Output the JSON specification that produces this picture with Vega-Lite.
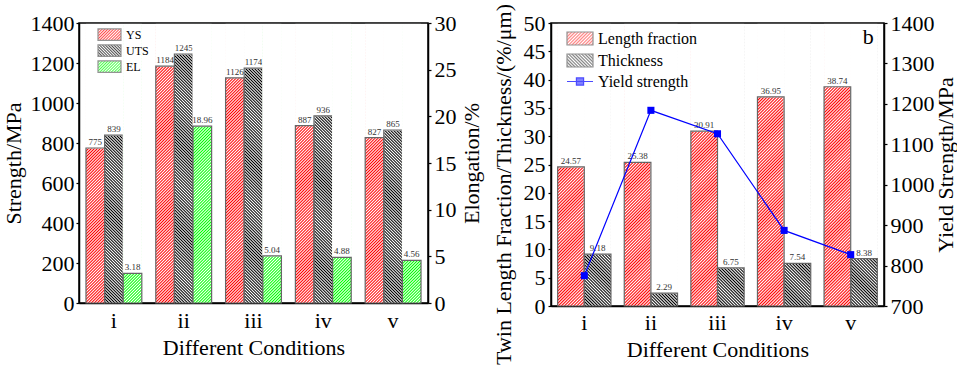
{
"$schema":"https://vega.github.io/schema/vega-lite/v6.json",
"autosize":{"type":"pad"},
"padding":{"left":1,"top":2,"right":0,"bottom":0},
"background":"white",
"params":[
{"name":"sR","value":[{"offset":0,"color":"#fff"},{"offset":0.005,"color":"#f00"},{"offset":0.01,"color":"#fff"},{"offset":0.015,"color":"#f00"},{"offset":0.02,"color":"#fff"},{"offset":0.025,"color":"#f00"},{"offset":0.03,"color":"#fff"},{"offset":0.035,"color":"#f00"},{"offset":0.04,"color":"#fff"},{"offset":0.045,"color":"#f00"},{"offset":0.05,"color":"#fff"},{"offset":0.055,"color":"#f00"},{"offset":0.06,"color":"#fff"},{"offset":0.065,"color":"#f00"},{"offset":0.07,"color":"#fff"},{"offset":0.075,"color":"#f00"},{"offset":0.08,"color":"#fff"},{"offset":0.085,"color":"#f00"},{"offset":0.09,"color":"#fff"},{"offset":0.095,"color":"#f00"},{"offset":0.1,"color":"#fff"},{"offset":0.105,"color":"#f00"},{"offset":0.11,"color":"#fff"},{"offset":0.115,"color":"#f00"},{"offset":0.12,"color":"#fff"},{"offset":0.125,"color":"#f00"},{"offset":0.13,"color":"#fff"},{"offset":0.135,"color":"#f00"},{"offset":0.14,"color":"#fff"},{"offset":0.145,"color":"#f00"},{"offset":0.15,"color":"#fff"},{"offset":0.155,"color":"#f00"},{"offset":0.16,"color":"#fff"},{"offset":0.165,"color":"#f00"},{"offset":0.17,"color":"#fff"},{"offset":0.175,"color":"#f00"},{"offset":0.18,"color":"#fff"},{"offset":0.185,"color":"#f00"},{"offset":0.19,"color":"#fff"},{"offset":0.195,"color":"#f00"},{"offset":0.2,"color":"#fff"},{"offset":0.205,"color":"#f00"},{"offset":0.21,"color":"#fff"},{"offset":0.215,"color":"#f00"},{"offset":0.22,"color":"#fff"},{"offset":0.225,"color":"#f00"},{"offset":0.23,"color":"#fff"},{"offset":0.235,"color":"#f00"},{"offset":0.24,"color":"#fff"},{"offset":0.245,"color":"#f00"},{"offset":0.25,"color":"#fff"},{"offset":0.255,"color":"#f00"},{"offset":0.26,"color":"#fff"},{"offset":0.265,"color":"#f00"},{"offset":0.27,"color":"#fff"},{"offset":0.275,"color":"#f00"},{"offset":0.28,"color":"#fff"},{"offset":0.285,"color":"#f00"},{"offset":0.29,"color":"#fff"},{"offset":0.295,"color":"#f00"},{"offset":0.3,"color":"#fff"},{"offset":0.305,"color":"#f00"},{"offset":0.31,"color":"#fff"},{"offset":0.315,"color":"#f00"},{"offset":0.32,"color":"#fff"},{"offset":0.325,"color":"#f00"},{"offset":0.33,"color":"#fff"},{"offset":0.335,"color":"#f00"},{"offset":0.34,"color":"#fff"},{"offset":0.345,"color":"#f00"},{"offset":0.35,"color":"#fff"},{"offset":0.355,"color":"#f00"},{"offset":0.36,"color":"#fff"},{"offset":0.365,"color":"#f00"},{"offset":0.37,"color":"#fff"},{"offset":0.375,"color":"#f00"},{"offset":0.38,"color":"#fff"},{"offset":0.385,"color":"#f00"},{"offset":0.39,"color":"#fff"},{"offset":0.395,"color":"#f00"},{"offset":0.4,"color":"#fff"},{"offset":0.405,"color":"#f00"},{"offset":0.41,"color":"#fff"},{"offset":0.415,"color":"#f00"},{"offset":0.42,"color":"#fff"},{"offset":0.425,"color":"#f00"},{"offset":0.43,"color":"#fff"},{"offset":0.435,"color":"#f00"},{"offset":0.44,"color":"#fff"},{"offset":0.445,"color":"#f00"},{"offset":0.45,"color":"#fff"},{"offset":0.455,"color":"#f00"},{"offset":0.46,"color":"#fff"},{"offset":0.465,"color":"#f00"},{"offset":0.47,"color":"#fff"},{"offset":0.475,"color":"#f00"},{"offset":0.48,"color":"#fff"},{"offset":0.485,"color":"#f00"},{"offset":0.49,"color":"#fff"},{"offset":0.495,"color":"#f00"},{"offset":0.5,"color":"#fff"},{"offset":0.505,"color":"#f00"},{"offset":0.51,"color":"#fff"},{"offset":0.515,"color":"#f00"},{"offset":0.52,"color":"#fff"},{"offset":0.525,"color":"#f00"},{"offset":0.53,"color":"#fff"},{"offset":0.535,"color":"#f00"},{"offset":0.54,"color":"#fff"},{"offset":0.545,"color":"#f00"},{"offset":0.55,"color":"#fff"},{"offset":0.555,"color":"#f00"},{"offset":0.56,"color":"#fff"},{"offset":0.565,"color":"#f00"},{"offset":0.57,"color":"#fff"},{"offset":0.575,"color":"#f00"},{"offset":0.58,"color":"#fff"},{"offset":0.585,"color":"#f00"},{"offset":0.59,"color":"#fff"},{"offset":0.595,"color":"#f00"},{"offset":0.6,"color":"#fff"},{"offset":0.605,"color":"#f00"},{"offset":0.61,"color":"#fff"},{"offset":0.615,"color":"#f00"},{"offset":0.62,"color":"#fff"},{"offset":0.625,"color":"#f00"},{"offset":0.63,"color":"#fff"},{"offset":0.635,"color":"#f00"},{"offset":0.64,"color":"#fff"},{"offset":0.645,"color":"#f00"},{"offset":0.65,"color":"#fff"},{"offset":0.655,"color":"#f00"},{"offset":0.66,"color":"#fff"},{"offset":0.665,"color":"#f00"},{"offset":0.67,"color":"#fff"},{"offset":0.675,"color":"#f00"},{"offset":0.68,"color":"#fff"},{"offset":0.685,"color":"#f00"},{"offset":0.69,"color":"#fff"},{"offset":0.695,"color":"#f00"},{"offset":0.7,"color":"#fff"},{"offset":0.705,"color":"#f00"},{"offset":0.71,"color":"#fff"},{"offset":0.715,"color":"#f00"},{"offset":0.72,"color":"#fff"},{"offset":0.725,"color":"#f00"},{"offset":0.73,"color":"#fff"},{"offset":0.735,"color":"#f00"},{"offset":0.74,"color":"#fff"},{"offset":0.745,"color":"#f00"},{"offset":0.75,"color":"#fff"},{"offset":0.755,"color":"#f00"},{"offset":0.76,"color":"#fff"},{"offset":0.765,"color":"#f00"},{"offset":0.77,"color":"#fff"},{"offset":0.775,"color":"#f00"},{"offset":0.78,"color":"#fff"},{"offset":0.785,"color":"#f00"},{"offset":0.79,"color":"#fff"},{"offset":0.795,"color":"#f00"},{"offset":0.8,"color":"#fff"},{"offset":0.805,"color":"#f00"},{"offset":0.81,"color":"#fff"},{"offset":0.815,"color":"#f00"},{"offset":0.82,"color":"#fff"},{"offset":0.825,"color":"#f00"},{"offset":0.83,"color":"#fff"},{"offset":0.835,"color":"#f00"},{"offset":0.84,"color":"#fff"},{"offset":0.845,"color":"#f00"},{"offset":0.85,"color":"#fff"},{"offset":0.855,"color":"#f00"},{"offset":0.86,"color":"#fff"},{"offset":0.865,"color":"#f00"},{"offset":0.87,"color":"#fff"},{"offset":0.875,"color":"#f00"},{"offset":0.88,"color":"#fff"},{"offset":0.885,"color":"#f00"},{"offset":0.89,"color":"#fff"},{"offset":0.895,"color":"#f00"},{"offset":0.9,"color":"#fff"},{"offset":0.905,"color":"#f00"},{"offset":0.91,"color":"#fff"},{"offset":0.915,"color":"#f00"},{"offset":0.92,"color":"#fff"},{"offset":0.925,"color":"#f00"},{"offset":0.93,"color":"#fff"},{"offset":0.935,"color":"#f00"},{"offset":0.94,"color":"#fff"},{"offset":0.945,"color":"#f00"},{"offset":0.95,"color":"#fff"},{"offset":0.955,"color":"#f00"},{"offset":0.96,"color":"#fff"},{"offset":0.965,"color":"#f00"},{"offset":0.97,"color":"#fff"},{"offset":0.975,"color":"#f00"},{"offset":0.98,"color":"#fff"},{"offset":0.985,"color":"#f00"},{"offset":0.99,"color":"#fff"},{"offset":0.995,"color":"#f00"},{"offset":1,"color":"#fff"}]},
{"name":"sK","value":[{"offset":0,"color":"#fff"},{"offset":0.005,"color":"#000"},{"offset":0.01,"color":"#fff"},{"offset":0.015,"color":"#000"},{"offset":0.02,"color":"#fff"},{"offset":0.025,"color":"#000"},{"offset":0.03,"color":"#fff"},{"offset":0.035,"color":"#000"},{"offset":0.04,"color":"#fff"},{"offset":0.045,"color":"#000"},{"offset":0.05,"color":"#fff"},{"offset":0.055,"color":"#000"},{"offset":0.06,"color":"#fff"},{"offset":0.065,"color":"#000"},{"offset":0.07,"color":"#fff"},{"offset":0.075,"color":"#000"},{"offset":0.08,"color":"#fff"},{"offset":0.085,"color":"#000"},{"offset":0.09,"color":"#fff"},{"offset":0.095,"color":"#000"},{"offset":0.1,"color":"#fff"},{"offset":0.105,"color":"#000"},{"offset":0.11,"color":"#fff"},{"offset":0.115,"color":"#000"},{"offset":0.12,"color":"#fff"},{"offset":0.125,"color":"#000"},{"offset":0.13,"color":"#fff"},{"offset":0.135,"color":"#000"},{"offset":0.14,"color":"#fff"},{"offset":0.145,"color":"#000"},{"offset":0.15,"color":"#fff"},{"offset":0.155,"color":"#000"},{"offset":0.16,"color":"#fff"},{"offset":0.165,"color":"#000"},{"offset":0.17,"color":"#fff"},{"offset":0.175,"color":"#000"},{"offset":0.18,"color":"#fff"},{"offset":0.185,"color":"#000"},{"offset":0.19,"color":"#fff"},{"offset":0.195,"color":"#000"},{"offset":0.2,"color":"#fff"},{"offset":0.205,"color":"#000"},{"offset":0.21,"color":"#fff"},{"offset":0.215,"color":"#000"},{"offset":0.22,"color":"#fff"},{"offset":0.225,"color":"#000"},{"offset":0.23,"color":"#fff"},{"offset":0.235,"color":"#000"},{"offset":0.24,"color":"#fff"},{"offset":0.245,"color":"#000"},{"offset":0.25,"color":"#fff"},{"offset":0.255,"color":"#000"},{"offset":0.26,"color":"#fff"},{"offset":0.265,"color":"#000"},{"offset":0.27,"color":"#fff"},{"offset":0.275,"color":"#000"},{"offset":0.28,"color":"#fff"},{"offset":0.285,"color":"#000"},{"offset":0.29,"color":"#fff"},{"offset":0.295,"color":"#000"},{"offset":0.3,"color":"#fff"},{"offset":0.305,"color":"#000"},{"offset":0.31,"color":"#fff"},{"offset":0.315,"color":"#000"},{"offset":0.32,"color":"#fff"},{"offset":0.325,"color":"#000"},{"offset":0.33,"color":"#fff"},{"offset":0.335,"color":"#000"},{"offset":0.34,"color":"#fff"},{"offset":0.345,"color":"#000"},{"offset":0.35,"color":"#fff"},{"offset":0.355,"color":"#000"},{"offset":0.36,"color":"#fff"},{"offset":0.365,"color":"#000"},{"offset":0.37,"color":"#fff"},{"offset":0.375,"color":"#000"},{"offset":0.38,"color":"#fff"},{"offset":0.385,"color":"#000"},{"offset":0.39,"color":"#fff"},{"offset":0.395,"color":"#000"},{"offset":0.4,"color":"#fff"},{"offset":0.405,"color":"#000"},{"offset":0.41,"color":"#fff"},{"offset":0.415,"color":"#000"},{"offset":0.42,"color":"#fff"},{"offset":0.425,"color":"#000"},{"offset":0.43,"color":"#fff"},{"offset":0.435,"color":"#000"},{"offset":0.44,"color":"#fff"},{"offset":0.445,"color":"#000"},{"offset":0.45,"color":"#fff"},{"offset":0.455,"color":"#000"},{"offset":0.46,"color":"#fff"},{"offset":0.465,"color":"#000"},{"offset":0.47,"color":"#fff"},{"offset":0.475,"color":"#000"},{"offset":0.48,"color":"#fff"},{"offset":0.485,"color":"#000"},{"offset":0.49,"color":"#fff"},{"offset":0.495,"color":"#000"},{"offset":0.5,"color":"#fff"},{"offset":0.505,"color":"#000"},{"offset":0.51,"color":"#fff"},{"offset":0.515,"color":"#000"},{"offset":0.52,"color":"#fff"},{"offset":0.525,"color":"#000"},{"offset":0.53,"color":"#fff"},{"offset":0.535,"color":"#000"},{"offset":0.54,"color":"#fff"},{"offset":0.545,"color":"#000"},{"offset":0.55,"color":"#fff"},{"offset":0.555,"color":"#000"},{"offset":0.56,"color":"#fff"},{"offset":0.565,"color":"#000"},{"offset":0.57,"color":"#fff"},{"offset":0.575,"color":"#000"},{"offset":0.58,"color":"#fff"},{"offset":0.585,"color":"#000"},{"offset":0.59,"color":"#fff"},{"offset":0.595,"color":"#000"},{"offset":0.6,"color":"#fff"},{"offset":0.605,"color":"#000"},{"offset":0.61,"color":"#fff"},{"offset":0.615,"color":"#000"},{"offset":0.62,"color":"#fff"},{"offset":0.625,"color":"#000"},{"offset":0.63,"color":"#fff"},{"offset":0.635,"color":"#000"},{"offset":0.64,"color":"#fff"},{"offset":0.645,"color":"#000"},{"offset":0.65,"color":"#fff"},{"offset":0.655,"color":"#000"},{"offset":0.66,"color":"#fff"},{"offset":0.665,"color":"#000"},{"offset":0.67,"color":"#fff"},{"offset":0.675,"color":"#000"},{"offset":0.68,"color":"#fff"},{"offset":0.685,"color":"#000"},{"offset":0.69,"color":"#fff"},{"offset":0.695,"color":"#000"},{"offset":0.7,"color":"#fff"},{"offset":0.705,"color":"#000"},{"offset":0.71,"color":"#fff"},{"offset":0.715,"color":"#000"},{"offset":0.72,"color":"#fff"},{"offset":0.725,"color":"#000"},{"offset":0.73,"color":"#fff"},{"offset":0.735,"color":"#000"},{"offset":0.74,"color":"#fff"},{"offset":0.745,"color":"#000"},{"offset":0.75,"color":"#fff"},{"offset":0.755,"color":"#000"},{"offset":0.76,"color":"#fff"},{"offset":0.765,"color":"#000"},{"offset":0.77,"color":"#fff"},{"offset":0.775,"color":"#000"},{"offset":0.78,"color":"#fff"},{"offset":0.785,"color":"#000"},{"offset":0.79,"color":"#fff"},{"offset":0.795,"color":"#000"},{"offset":0.8,"color":"#fff"},{"offset":0.805,"color":"#000"},{"offset":0.81,"color":"#fff"},{"offset":0.815,"color":"#000"},{"offset":0.82,"color":"#fff"},{"offset":0.825,"color":"#000"},{"offset":0.83,"color":"#fff"},{"offset":0.835,"color":"#000"},{"offset":0.84,"color":"#fff"},{"offset":0.845,"color":"#000"},{"offset":0.85,"color":"#fff"},{"offset":0.855,"color":"#000"},{"offset":0.86,"color":"#fff"},{"offset":0.865,"color":"#000"},{"offset":0.87,"color":"#fff"},{"offset":0.875,"color":"#000"},{"offset":0.88,"color":"#fff"},{"offset":0.885,"color":"#000"},{"offset":0.89,"color":"#fff"},{"offset":0.895,"color":"#000"},{"offset":0.9,"color":"#fff"},{"offset":0.905,"color":"#000"},{"offset":0.91,"color":"#fff"},{"offset":0.915,"color":"#000"},{"offset":0.92,"color":"#fff"},{"offset":0.925,"color":"#000"},{"offset":0.93,"color":"#fff"},{"offset":0.935,"color":"#000"},{"offset":0.94,"color":"#fff"},{"offset":0.945,"color":"#000"},{"offset":0.95,"color":"#fff"},{"offset":0.955,"color":"#000"},{"offset":0.96,"color":"#fff"},{"offset":0.965,"color":"#000"},{"offset":0.97,"color":"#fff"},{"offset":0.975,"color":"#000"},{"offset":0.98,"color":"#fff"},{"offset":0.985,"color":"#000"},{"offset":0.99,"color":"#fff"},{"offset":0.995,"color":"#000"},{"offset":1,"color":"#fff"}]},
{"name":"sG","value":[{"offset":0,"color":"#fff"},{"offset":0.005,"color":"#0f0"},{"offset":0.01,"color":"#fff"},{"offset":0.015,"color":"#0f0"},{"offset":0.02,"color":"#fff"},{"offset":0.025,"color":"#0f0"},{"offset":0.03,"color":"#fff"},{"offset":0.035,"color":"#0f0"},{"offset":0.04,"color":"#fff"},{"offset":0.045,"color":"#0f0"},{"offset":0.05,"color":"#fff"},{"offset":0.055,"color":"#0f0"},{"offset":0.06,"color":"#fff"},{"offset":0.065,"color":"#0f0"},{"offset":0.07,"color":"#fff"},{"offset":0.075,"color":"#0f0"},{"offset":0.08,"color":"#fff"},{"offset":0.085,"color":"#0f0"},{"offset":0.09,"color":"#fff"},{"offset":0.095,"color":"#0f0"},{"offset":0.1,"color":"#fff"},{"offset":0.105,"color":"#0f0"},{"offset":0.11,"color":"#fff"},{"offset":0.115,"color":"#0f0"},{"offset":0.12,"color":"#fff"},{"offset":0.125,"color":"#0f0"},{"offset":0.13,"color":"#fff"},{"offset":0.135,"color":"#0f0"},{"offset":0.14,"color":"#fff"},{"offset":0.145,"color":"#0f0"},{"offset":0.15,"color":"#fff"},{"offset":0.155,"color":"#0f0"},{"offset":0.16,"color":"#fff"},{"offset":0.165,"color":"#0f0"},{"offset":0.17,"color":"#fff"},{"offset":0.175,"color":"#0f0"},{"offset":0.18,"color":"#fff"},{"offset":0.185,"color":"#0f0"},{"offset":0.19,"color":"#fff"},{"offset":0.195,"color":"#0f0"},{"offset":0.2,"color":"#fff"},{"offset":0.205,"color":"#0f0"},{"offset":0.21,"color":"#fff"},{"offset":0.215,"color":"#0f0"},{"offset":0.22,"color":"#fff"},{"offset":0.225,"color":"#0f0"},{"offset":0.23,"color":"#fff"},{"offset":0.235,"color":"#0f0"},{"offset":0.24,"color":"#fff"},{"offset":0.245,"color":"#0f0"},{"offset":0.25,"color":"#fff"},{"offset":0.255,"color":"#0f0"},{"offset":0.26,"color":"#fff"},{"offset":0.265,"color":"#0f0"},{"offset":0.27,"color":"#fff"},{"offset":0.275,"color":"#0f0"},{"offset":0.28,"color":"#fff"},{"offset":0.285,"color":"#0f0"},{"offset":0.29,"color":"#fff"},{"offset":0.295,"color":"#0f0"},{"offset":0.3,"color":"#fff"},{"offset":0.305,"color":"#0f0"},{"offset":0.31,"color":"#fff"},{"offset":0.315,"color":"#0f0"},{"offset":0.32,"color":"#fff"},{"offset":0.325,"color":"#0f0"},{"offset":0.33,"color":"#fff"},{"offset":0.335,"color":"#0f0"},{"offset":0.34,"color":"#fff"},{"offset":0.345,"color":"#0f0"},{"offset":0.35,"color":"#fff"},{"offset":0.355,"color":"#0f0"},{"offset":0.36,"color":"#fff"},{"offset":0.365,"color":"#0f0"},{"offset":0.37,"color":"#fff"},{"offset":0.375,"color":"#0f0"},{"offset":0.38,"color":"#fff"},{"offset":0.385,"color":"#0f0"},{"offset":0.39,"color":"#fff"},{"offset":0.395,"color":"#0f0"},{"offset":0.4,"color":"#fff"},{"offset":0.405,"color":"#0f0"},{"offset":0.41,"color":"#fff"},{"offset":0.415,"color":"#0f0"},{"offset":0.42,"color":"#fff"},{"offset":0.425,"color":"#0f0"},{"offset":0.43,"color":"#fff"},{"offset":0.435,"color":"#0f0"},{"offset":0.44,"color":"#fff"},{"offset":0.445,"color":"#0f0"},{"offset":0.45,"color":"#fff"},{"offset":0.455,"color":"#0f0"},{"offset":0.46,"color":"#fff"},{"offset":0.465,"color":"#0f0"},{"offset":0.47,"color":"#fff"},{"offset":0.475,"color":"#0f0"},{"offset":0.48,"color":"#fff"},{"offset":0.485,"color":"#0f0"},{"offset":0.49,"color":"#fff"},{"offset":0.495,"color":"#0f0"},{"offset":0.5,"color":"#fff"},{"offset":0.505,"color":"#0f0"},{"offset":0.51,"color":"#fff"},{"offset":0.515,"color":"#0f0"},{"offset":0.52,"color":"#fff"},{"offset":0.525,"color":"#0f0"},{"offset":0.53,"color":"#fff"},{"offset":0.535,"color":"#0f0"},{"offset":0.54,"color":"#fff"},{"offset":0.545,"color":"#0f0"},{"offset":0.55,"color":"#fff"},{"offset":0.555,"color":"#0f0"},{"offset":0.56,"color":"#fff"},{"offset":0.565,"color":"#0f0"},{"offset":0.57,"color":"#fff"},{"offset":0.575,"color":"#0f0"},{"offset":0.58,"color":"#fff"},{"offset":0.585,"color":"#0f0"},{"offset":0.59,"color":"#fff"},{"offset":0.595,"color":"#0f0"},{"offset":0.6,"color":"#fff"},{"offset":0.605,"color":"#0f0"},{"offset":0.61,"color":"#fff"},{"offset":0.615,"color":"#0f0"},{"offset":0.62,"color":"#fff"},{"offset":0.625,"color":"#0f0"},{"offset":0.63,"color":"#fff"},{"offset":0.635,"color":"#0f0"},{"offset":0.64,"color":"#fff"},{"offset":0.645,"color":"#0f0"},{"offset":0.65,"color":"#fff"},{"offset":0.655,"color":"#0f0"},{"offset":0.66,"color":"#fff"},{"offset":0.665,"color":"#0f0"},{"offset":0.67,"color":"#fff"},{"offset":0.675,"color":"#0f0"},{"offset":0.68,"color":"#fff"},{"offset":0.685,"color":"#0f0"},{"offset":0.69,"color":"#fff"},{"offset":0.695,"color":"#0f0"},{"offset":0.7,"color":"#fff"},{"offset":0.705,"color":"#0f0"},{"offset":0.71,"color":"#fff"},{"offset":0.715,"color":"#0f0"},{"offset":0.72,"color":"#fff"},{"offset":0.725,"color":"#0f0"},{"offset":0.73,"color":"#fff"},{"offset":0.735,"color":"#0f0"},{"offset":0.74,"color":"#fff"},{"offset":0.745,"color":"#0f0"},{"offset":0.75,"color":"#fff"},{"offset":0.755,"color":"#0f0"},{"offset":0.76,"color":"#fff"},{"offset":0.765,"color":"#0f0"},{"offset":0.77,"color":"#fff"},{"offset":0.775,"color":"#0f0"},{"offset":0.78,"color":"#fff"},{"offset":0.785,"color":"#0f0"},{"offset":0.79,"color":"#fff"},{"offset":0.795,"color":"#0f0"},{"offset":0.8,"color":"#fff"},{"offset":0.805,"color":"#0f0"},{"offset":0.81,"color":"#fff"},{"offset":0.815,"color":"#0f0"},{"offset":0.82,"color":"#fff"},{"offset":0.825,"color":"#0f0"},{"offset":0.83,"color":"#fff"},{"offset":0.835,"color":"#0f0"},{"offset":0.84,"color":"#fff"},{"offset":0.845,"color":"#0f0"},{"offset":0.85,"color":"#fff"},{"offset":0.855,"color":"#0f0"},{"offset":0.86,"color":"#fff"},{"offset":0.865,"color":"#0f0"},{"offset":0.87,"color":"#fff"},{"offset":0.875,"color":"#0f0"},{"offset":0.88,"color":"#fff"},{"offset":0.885,"color":"#0f0"},{"offset":0.89,"color":"#fff"},{"offset":0.895,"color":"#0f0"},{"offset":0.9,"color":"#fff"},{"offset":0.905,"color":"#0f0"},{"offset":0.91,"color":"#fff"},{"offset":0.915,"color":"#0f0"},{"offset":0.92,"color":"#fff"},{"offset":0.925,"color":"#0f0"},{"offset":0.93,"color":"#fff"},{"offset":0.935,"color":"#0f0"},{"offset":0.94,"color":"#fff"},{"offset":0.945,"color":"#0f0"},{"offset":0.95,"color":"#fff"},{"offset":0.955,"color":"#0f0"},{"offset":0.96,"color":"#fff"},{"offset":0.965,"color":"#0f0"},{"offset":0.97,"color":"#fff"},{"offset":0.975,"color":"#0f0"},{"offset":0.98,"color":"#fff"},{"offset":0.985,"color":"#0f0"},{"offset":0.99,"color":"#fff"},{"offset":0.995,"color":"#0f0"},{"offset":1,"color":"#fff"}]},
{"name":"lR","value":[{"offset":0,"color":"#fff"},{"offset":0.0417,"color":"#f00"},{"offset":0.0833,"color":"#fff"},{"offset":0.125,"color":"#f00"},{"offset":0.1667,"color":"#fff"},{"offset":0.2083,"color":"#f00"},{"offset":0.25,"color":"#fff"},{"offset":0.2917,"color":"#f00"},{"offset":0.3333,"color":"#fff"},{"offset":0.375,"color":"#f00"},{"offset":0.4167,"color":"#fff"},{"offset":0.4583,"color":"#f00"},{"offset":0.5,"color":"#fff"},{"offset":0.5417,"color":"#f00"},{"offset":0.5833,"color":"#fff"},{"offset":0.625,"color":"#f00"},{"offset":0.6667,"color":"#fff"},{"offset":0.7083,"color":"#f00"},{"offset":0.75,"color":"#fff"},{"offset":0.7917,"color":"#f00"},{"offset":0.8333,"color":"#fff"},{"offset":0.875,"color":"#f00"},{"offset":0.9167,"color":"#fff"},{"offset":0.9583,"color":"#f00"},{"offset":1,"color":"#fff"}]},
{"name":"lK","value":[{"offset":0,"color":"#fff"},{"offset":0.0417,"color":"#000"},{"offset":0.0833,"color":"#fff"},{"offset":0.125,"color":"#000"},{"offset":0.1667,"color":"#fff"},{"offset":0.2083,"color":"#000"},{"offset":0.25,"color":"#fff"},{"offset":0.2917,"color":"#000"},{"offset":0.3333,"color":"#fff"},{"offset":0.375,"color":"#000"},{"offset":0.4167,"color":"#fff"},{"offset":0.4583,"color":"#000"},{"offset":0.5,"color":"#fff"},{"offset":0.5417,"color":"#000"},{"offset":0.5833,"color":"#fff"},{"offset":0.625,"color":"#000"},{"offset":0.6667,"color":"#fff"},{"offset":0.7083,"color":"#000"},{"offset":0.75,"color":"#fff"},{"offset":0.7917,"color":"#000"},{"offset":0.8333,"color":"#fff"},{"offset":0.875,"color":"#000"},{"offset":0.9167,"color":"#fff"},{"offset":0.9583,"color":"#000"},{"offset":1,"color":"#fff"}]},
{"name":"lG","value":[{"offset":0,"color":"#fff"},{"offset":0.0417,"color":"#0f0"},{"offset":0.0833,"color":"#fff"},{"offset":0.125,"color":"#0f0"},{"offset":0.1667,"color":"#fff"},{"offset":0.2083,"color":"#0f0"},{"offset":0.25,"color":"#fff"},{"offset":0.2917,"color":"#0f0"},{"offset":0.3333,"color":"#fff"},{"offset":0.375,"color":"#0f0"},{"offset":0.4167,"color":"#fff"},{"offset":0.4583,"color":"#0f0"},{"offset":0.5,"color":"#fff"},{"offset":0.5417,"color":"#0f0"},{"offset":0.5833,"color":"#fff"},{"offset":0.625,"color":"#0f0"},{"offset":0.6667,"color":"#fff"},{"offset":0.7083,"color":"#0f0"},{"offset":0.75,"color":"#fff"},{"offset":0.7917,"color":"#0f0"},{"offset":0.8333,"color":"#fff"},{"offset":0.875,"color":"#0f0"},{"offset":0.9167,"color":"#fff"},{"offset":0.9583,"color":"#0f0"},{"offset":1,"color":"#fff"}]}
],
"datasets":{
"left":[
{"cond":"i","series":"YS","value":775},{"cond":"i","series":"UTS","value":839},{"cond":"i","series":"EL","value":3.18},
{"cond":"ii","series":"YS","value":1184},{"cond":"ii","series":"UTS","value":1245},{"cond":"ii","series":"EL","value":18.96},
{"cond":"iii","series":"YS","value":1126},{"cond":"iii","series":"UTS","value":1174},{"cond":"iii","series":"EL","value":5.04},
{"cond":"iv","series":"YS","value":887},{"cond":"iv","series":"UTS","value":936},{"cond":"iv","series":"EL","value":4.88},
{"cond":"v","series":"YS","value":827},{"cond":"v","series":"UTS","value":865},{"cond":"v","series":"EL","value":4.56}],
"right":[
{"cond":"i","series":"Length fraction","value":24.57},{"cond":"i","series":"Thickness","value":9.18},{"cond":"i","series":"Yield strength","value":775},
{"cond":"ii","series":"Length fraction","value":25.38},{"cond":"ii","series":"Thickness","value":2.29},{"cond":"ii","series":"Yield strength","value":1184},
{"cond":"iii","series":"Length fraction","value":30.91},{"cond":"iii","series":"Thickness","value":6.75},{"cond":"iii","series":"Yield strength","value":1126},
{"cond":"iv","series":"Length fraction","value":36.95},{"cond":"iv","series":"Thickness","value":7.54},{"cond":"iv","series":"Yield strength","value":887},
{"cond":"v","series":"Length fraction","value":38.74},{"cond":"v","series":"Thickness","value":8.38},{"cond":"v","series":"Yield strength","value":827}]
},
"spacing":123,
"bounds":"flush",
"resolve":{"scale":{"xOffset":"independent","fill":"independent","stroke":"independent","shape":"independent"},"legend":{"fill":"independent","stroke":"independent","shape":"independent"}},
"hconcat":[
{
"width":349,"height":280,
"data":{"name":"left"},
"encoding":{"x":{"field":"cond","type":"nominal","scale":{"domain":["i","ii","iii","iv","v"],"paddingInner":0.2,"paddingOuter":0.1},"axis":{"title":"Different Conditions","titleFont":"Liberation Serif","labelAngle":0,"ticks":false,"labelPadding":7,"titlePadding":6}}},
"layer":[
{"layer":[
{"mark":{"type":"bar","fill":{"expr":"{gradient:'linear',x1:0,y1:0,x2:0.0711,y2:1.0622,stops:sR}"}},
"transform":[{"filter":"datum.series === 'YS'"}],
"encoding":{"xOffset":{"field":"series","type":"nominal","scale":{"domain":["YS","UTS","EL"],"paddingInner":0,"paddingOuter":0}},
"y":{"datum":1390,"type":"quantitative","title":"Strength/MPa","scale":{"domain":[0,1400],"nice":false},"axis":{"title":"Strength/MPa","titleFont":"Liberation Serif","values":[0,200,400,600,800,1000,1200,1400],"format":"d","titlePadding":5}},"y2":{"datum":0}}},
{"mark":{"type":"bar","fill":{"expr":"{gradient:'linear',x1:1,y1:0,x2:0.9289,y2:1.0622,stops:sK}"}},
"transform":[{"filter":"datum.series === 'UTS'"}],
"encoding":{"xOffset":{"field":"series","type":"nominal","scale":{"domain":["YS","UTS","EL"],"paddingInner":0,"paddingOuter":0}},
"y":{"datum":1390,"type":"quantitative","title":"Strength/MPa","axis":{"title":"Strength/MPa","titleFont":"Liberation Serif","values":[0,200,400,600,800,1000,1200,1400],"format":"d","titlePadding":5}},"y2":{"datum":0}}},
{"mark":{"type":"bar","fill":"white","stroke":"white","strokeWidth":1},
"transform":[{"filter":"datum.series !== 'EL'"}],
"encoding":{"xOffset":{"field":"series","type":"nominal","scale":{"domain":["YS","UTS","EL"],"paddingInner":0,"paddingOuter":0}},
"y":{"field":"value","type":"quantitative","title":"Strength/MPa","stack":null,"axis":{"title":"Strength/MPa","titleFont":"Liberation Serif","values":[0,200,400,600,800,1000,1200,1400],"format":"d","titlePadding":5}},"y2":{"datum":1393}}},
{"mark":{"type":"bar","fill":"transparent","stroke":"#666666","strokeWidth":1.2},
"transform":[{"filter":"datum.series !== 'EL'"}],
"encoding":{"xOffset":{"field":"series","type":"nominal","scale":{"domain":["YS","UTS","EL"],"paddingInner":0,"paddingOuter":0}},
"y":{"field":"value","type":"quantitative","title":"Strength/MPa","stack":null,"axis":{"title":"Strength/MPa","titleFont":"Liberation Serif","values":[0,200,400,600,800,1000,1200,1400],"format":"d","titlePadding":5}},"y2":{"datum":0}}},
{"mark":{"type":"text","font":"Liberation Serif","fontSize":9,"fill":"#333333","baseline":"alphabetic","dy":-3},
"transform":[{"filter":"datum.series !== 'EL'"}],
"encoding":{"xOffset":{"field":"series","type":"nominal","scale":{"domain":["YS","UTS","EL"],"paddingInner":0,"paddingOuter":0}},
"y":{"field":"value","type":"quantitative","title":"Strength/MPa","stack":null,"axis":{"title":"Strength/MPa","titleFont":"Liberation Serif","values":[0,200,400,600,800,1000,1200,1400],"format":"d","titlePadding":5}},"text":{"field":"value","type":"nominal"}}},
{"mark":{"type":"point","filled":true,"strokeWidth":1.2},
"transform":[{"filter":"false"}],
"encoding":{"y":{"field":"value","type":"quantitative","title":"Strength/MPa","axis":{"title":"Strength/MPa","titleFont":"Liberation Serif","values":[0,200,400,600,800,1000,1200,1400],"format":"d","titlePadding":5}},
"fill":{"field":"series","type":"nominal","scale":{"domain":["YS","UTS","EL"],"range":[{"expr":"{gradient:'linear',x1:0,y1:0,x2:1.2,y2:0.6,stops:lR}"},{"expr":"{gradient:'linear',x1:1,y1:0,x2:-0.2,y2:0.6,stops:lK}"},{"expr":"{gradient:'linear',x1:0,y1:0,x2:1.2,y2:0.6,stops:lG}"}]},
"legend":{"title":null,"orient":"none","legendX":24,"legendY":5.2,"symbolType":"M-2,-1H2V1H-2Z","symbolSize":132.25,"symbolStrokeWidth":1.2,"labelFont":"Liberation Serif","labelFontSize":12,"labelColor":"black","labelOffset":10,"rowPadding":-1,"padding":0}},
"stroke":{"field":"series","type":"nominal","scale":{"domain":["YS","UTS","EL"],"range":["#666666","#666666","#666666"]},
"legend":{"title":null,"orient":"none","legendX":24,"legendY":5.2,"symbolType":"M-2,-1H2V1H-2Z","symbolSize":132.25,"symbolStrokeWidth":1.2,"labelFont":"Liberation Serif","labelFontSize":12,"labelColor":"black","labelOffset":10,"rowPadding":-1,"padding":0}}}},
{"data":{"values":[{"t":"a"}]},
"mark":{"type":"text","font":"Liberation Serif","fontSize":22,"align":"right","baseline":"alphabetic","dx":25,"fill":"black"},
"encoding":{"x":{"datum":"v","title":"Different Conditions","axis":{"title":"Different Conditions","titleFont":"Liberation Serif","labelAngle":0,"ticks":false,"labelPadding":7,"titlePadding":6}},
"y":{"datum":1295,"type":"quantitative","title":"Strength/MPa","axis":{"title":"Strength/MPa","titleFont":"Liberation Serif","values":[0,200,400,600,800,1000,1200,1400],"format":"d","titlePadding":5}},"text":{"field":"t","type":"nominal"}}}
]},
{"layer":[
{"mark":{"type":"bar","fill":{"expr":"{gradient:'linear',x1:0,y1:0,x2:0.0711,y2:1.0622,stops:sG}"}},
"transform":[{"filter":"datum.series === 'EL'"}],
"encoding":{"xOffset":{"field":"series","type":"nominal","scale":{"domain":["YS","UTS","EL"],"paddingInner":0,"paddingOuter":0}},
"y":{"datum":29.8,"type":"quantitative","title":"Elongation/%","scale":{"domain":[0,30],"nice":false},"axis":{"title":"Elongation/%","titleFont":"Liberation Serif","orient":"right","values":[0,5,10,15,20,25,30],"format":"d","labelPadding":3,"titlePadding":5}},"y2":{"datum":0}}},
{"mark":{"type":"bar","fill":"white","stroke":"white","strokeWidth":1},
"transform":[{"filter":"datum.series === 'EL'"}],
"encoding":{"xOffset":{"field":"series","type":"nominal","scale":{"domain":["YS","UTS","EL"],"paddingInner":0,"paddingOuter":0}},
"y":{"field":"value","type":"quantitative","title":"Elongation/%","stack":null,"axis":{"title":"Elongation/%","titleFont":"Liberation Serif","orient":"right","values":[0,5,10,15,20,25,30],"format":"d","labelPadding":3,"titlePadding":5}},"y2":{"datum":29.85}}},
{"mark":{"type":"bar","fill":"transparent","stroke":"#666666","strokeWidth":1.2},
"transform":[{"filter":"datum.series === 'EL'"}],
"encoding":{"xOffset":{"field":"series","type":"nominal","scale":{"domain":["YS","UTS","EL"],"paddingInner":0,"paddingOuter":0}},
"y":{"field":"value","type":"quantitative","title":"Elongation/%","stack":null,"axis":{"title":"Elongation/%","titleFont":"Liberation Serif","orient":"right","values":[0,5,10,15,20,25,30],"format":"d","labelPadding":3,"titlePadding":5}},"y2":{"datum":0}}},
{"mark":{"type":"text","font":"Liberation Serif","fontSize":9,"fill":"#333333","baseline":"alphabetic","dy":-3},
"transform":[{"filter":"datum.series === 'EL'"}],
"encoding":{"xOffset":{"field":"series","type":"nominal","scale":{"domain":["YS","UTS","EL"],"paddingInner":0,"paddingOuter":0}},
"y":{"field":"value","type":"quantitative","title":"Elongation/%","stack":null,"axis":{"title":"Elongation/%","titleFont":"Liberation Serif","orient":"right","values":[0,5,10,15,20,25,30],"format":"d","labelPadding":3,"titlePadding":5}},"text":{"field":"value","type":"nominal"}}}
]}
],
"resolve":{"scale":{"y":"independent"}}
},
{
"width":333,"height":283,
"data":{"name":"right"},
"encoding":{"x":{"field":"cond","type":"nominal","scale":{"domain":["i","ii","iii","iv","v"],"paddingInner":0.2,"paddingOuter":0.1},"axis":{"title":"Different Conditions","titleFont":"Liberation Serif","labelAngle":0,"ticks":false,"labelPadding":6,"titlePadding":6}}},
"layer":[
{"layer":[
{"mark":{"type":"bar","fill":{"expr":"{gradient:'linear',x1:0,y1:0,x2:0.103,y2:1.0851,stops:sR}"}},
"transform":[{"filter":"datum.series === 'Length fraction'"}],
"encoding":{"xOffset":{"field":"series","type":"nominal","scale":{"domain":["Length fraction","Thickness"],"paddingInner":0,"paddingOuter":0}},
"y":{"datum":49.6,"type":"quantitative","title":"Twin Length Fraction/Thickness/(%/μm)","scale":{"domain":[0,50],"nice":false},"axis":{"title":"Twin Length Fraction/Thickness/(%/μm)","titleFont":"Liberation Serif","values":[0,5,10,15,20,25,30,35,40,45,50],"format":"d","labelPadding":3,"titlePadding":8,"titleY":161}},"y2":{"datum":0}}},
{"mark":{"type":"bar","fill":{"expr":"{gradient:'linear',x1:1,y1:0,x2:0.897,y2:1.0851,stops:sK}"}},
"transform":[{"filter":"datum.series === 'Thickness'"}],
"encoding":{"xOffset":{"field":"series","type":"nominal","scale":{"domain":["Length fraction","Thickness"],"paddingInner":0,"paddingOuter":0}},
"y":{"datum":49.6,"type":"quantitative","title":"Twin Length Fraction/Thickness/(%/μm)","axis":{"title":"Twin Length Fraction/Thickness/(%/μm)","titleFont":"Liberation Serif","values":[0,5,10,15,20,25,30,35,40,45,50],"format":"d","labelPadding":3,"titlePadding":8,"titleY":161}},"y2":{"datum":0}}},
{"mark":{"type":"bar","fill":"white","stroke":"white","strokeWidth":1},
"transform":[{"filter":"datum.series !== 'Yield strength'"}],
"encoding":{"xOffset":{"field":"series","type":"nominal","scale":{"domain":["Length fraction","Thickness"],"paddingInner":0,"paddingOuter":0}},
"y":{"field":"value","type":"quantitative","title":"Twin Length Fraction/Thickness/(%/μm)","stack":null,"axis":{"title":"Twin Length Fraction/Thickness/(%/μm)","titleFont":"Liberation Serif","values":[0,5,10,15,20,25,30,35,40,45,50],"format":"d","labelPadding":3,"titlePadding":8,"titleY":161}},"y2":{"datum":49.75}}},
{"mark":{"type":"bar","fill":"transparent","stroke":"#666666","strokeWidth":1.2},
"transform":[{"filter":"datum.series !== 'Yield strength'"}],
"encoding":{"xOffset":{"field":"series","type":"nominal","scale":{"domain":["Length fraction","Thickness"],"paddingInner":0,"paddingOuter":0}},
"y":{"field":"value","type":"quantitative","title":"Twin Length Fraction/Thickness/(%/μm)","stack":null,"axis":{"title":"Twin Length Fraction/Thickness/(%/μm)","titleFont":"Liberation Serif","values":[0,5,10,15,20,25,30,35,40,45,50],"format":"d","labelPadding":3,"titlePadding":8,"titleY":161}},"y2":{"datum":0}}},
{"mark":{"type":"text","font":"Liberation Serif","fontSize":9,"fill":"#333333","baseline":"alphabetic","dy":-3},
"transform":[{"filter":"datum.series !== 'Yield strength'"}],
"encoding":{"xOffset":{"field":"series","type":"nominal","scale":{"domain":["Length fraction","Thickness"],"paddingInner":0,"paddingOuter":0}},
"y":{"field":"value","type":"quantitative","title":"Twin Length Fraction/Thickness/(%/μm)","stack":null,"axis":{"title":"Twin Length Fraction/Thickness/(%/μm)","titleFont":"Liberation Serif","values":[0,5,10,15,20,25,30,35,40,45,50],"format":"d","labelPadding":3,"titlePadding":8,"titleY":161}},"text":{"field":"value","type":"nominal"}}},
{"mark":{"type":"point","filled":true,"strokeWidth":1.2},
"transform":[{"filter":"false"}],
"encoding":{"y":{"field":"value","type":"quantitative","title":"Twin Length Fraction/Thickness/(%/μm)","axis":{"title":"Twin Length Fraction/Thickness/(%/μm)","titleFont":"Liberation Serif","values":[0,5,10,15,20,25,30,35,40,45,50],"format":"d","labelPadding":3,"titlePadding":8,"titleY":161}},
"fill":{"field":"series","type":"nominal","scale":{"domain":["Length fraction","Thickness","Yield strength"],"range":[{"expr":"{gradient:'linear',x1:0,y1:0,x2:1.2,y2:0.6,stops:lR}"},{"expr":"{gradient:'linear',x1:1,y1:0,x2:-0.2,y2:0.6,stops:lK}"},"#0000ff"]},
"legend":{"title":null,"orient":"none","legendX":21,"legendY":7.5,"symbolSize":169,"symbolStrokeWidth":1.2,"labelFont":"Liberation Serif","labelFontSize":16,"labelColor":"black","labelOffset":10,"rowPadding":4,"padding":0}},
"stroke":{"field":"series","type":"nominal","scale":{"domain":["Length fraction","Thickness","Yield strength"],"range":["#666666","#666666","#0000ff"]},
"legend":{"title":null,"orient":"none","legendX":21,"legendY":7.5,"symbolSize":169,"symbolStrokeWidth":1.2,"labelFont":"Liberation Serif","labelFontSize":16,"labelColor":"black","labelOffset":10,"rowPadding":4,"padding":0}},
"shape":{"field":"series","type":"nominal","scale":{"domain":["Length fraction","Thickness","Yield strength"],"range":["M-2,-1H2V1H-2Z","M-2,-1H2V1H-2Z","M-2,0H2M-0.55,-0.55H0.55V0.55H-0.55Z"]},
"legend":{"title":null,"orient":"none","legendX":21,"legendY":7.5,"symbolSize":169,"symbolStrokeWidth":1.2,"labelFont":"Liberation Serif","labelFontSize":16,"labelColor":"black","labelOffset":10,"rowPadding":4,"padding":0}}}},
{"data":{"values":[{"t":"b"}]},
"mark":{"type":"text","font":"Liberation Serif","fontSize":22,"align":"right","baseline":"alphabetic","dx":23,"fill":"black"},
"encoding":{"x":{"datum":"v","title":"Different Conditions","axis":{"title":"Different Conditions","titleFont":"Liberation Serif","labelAngle":0,"ticks":false,"labelPadding":6,"titlePadding":6}},
"y":{"datum":46.3,"type":"quantitative","title":"Twin Length Fraction/Thickness/(%/μm)","axis":{"title":"Twin Length Fraction/Thickness/(%/μm)","titleFont":"Liberation Serif","values":[0,5,10,15,20,25,30,35,40,45,50],"format":"d","labelPadding":3,"titlePadding":8,"titleY":161}},"text":{"field":"t","type":"nominal"}}}
]},
{"layer":[
{"mark":{"type":"line","color":"#0000ff","strokeWidth":1.2},
"transform":[{"filter":"datum.series === 'Yield strength'"}],
"encoding":{"y":{"field":"value","type":"quantitative","title":"Yield Strength/MPa","scale":{"domain":[700,1400],"nice":false,"zero":false},"axis":{"title":"Yield Strength/MPa","titleFont":"Liberation Serif","orient":"right","values":[700,800,900,1000,1100,1200,1300,1400],"format":"d","labelPadding":3,"titlePadding":1}}}},
{"mark":{"type":"point","shape":"square","filled":true,"size":50,"color":"#0000ff","opacity":1},
"transform":[{"filter":"datum.series === 'Yield strength'"}],
"encoding":{"y":{"field":"value","type":"quantitative","title":"Yield Strength/MPa","axis":{"title":"Yield Strength/MPa","titleFont":"Liberation Serif","orient":"right","values":[700,800,900,1000,1100,1200,1300,1400],"format":"d","labelPadding":3,"titlePadding":1}}}}
]}
],
"resolve":{"scale":{"y":"independent"}}
}
],
"config":{
"font":"Liberation Serif",
"view":{"stroke":"black","strokeWidth":1.5},
"legend":{"labelFont":"Liberation Serif"},
"title":{"font":"Liberation Serif"},
"style":{"guide-title":{"font":"Liberation Serif","fontWeight":"normal"},"guide-label":{"font":"Liberation Serif"}},
"axis":{"grid":false,"labelFont":"Liberation Serif","titleFont":"Liberation Serif","labelFontSize":22,"titleFontSize":22,"titleFontWeight":"normal","labelColor":"black","titleColor":"black","domainColor":"black","domainWidth":1.5,"tickColor":"black","tickWidth":1.2,"tickSize":3,"labelPadding":2,"titlePadding":6,"zindex":1,"titleLimit":1000,"labelLimit":1000,"labelOverlap":false},
"axisX":{"titleFont":"Liberation Serif"},
"axisY":{"titleFont":"Liberation Serif"},
"axisRight":{"titleAngle":270,"titleBaseline":"top"}
}
}
